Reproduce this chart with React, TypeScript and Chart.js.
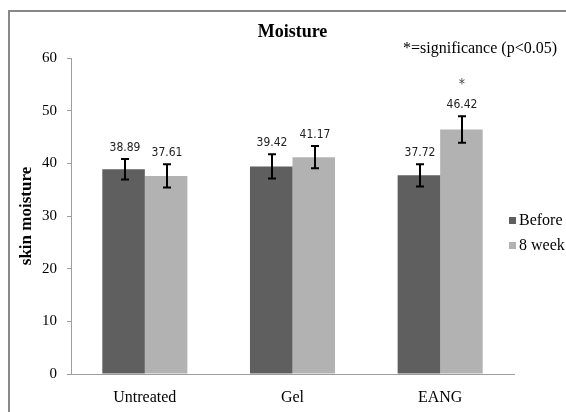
import React, { useEffect, useRef } from "react";
import { Chart, registerables } from "chart.js";

Chart.register(...registerables);

// ---- data ----
const categories = ["Untreated", "Gel", "EANG"];
const seriesNames = ["Before", "8 week"];
const beforeValues = [38.89, 39.42, 37.72];
const afterValues = [37.61, 41.17, 46.42];
const beforeErrors = [1.95, 2.3, 2.1];
const afterErrors = [2.2, 2.1, 2.5];
const beforeMarks = ["", "", ""];
const afterMarks = ["", "", "*"];
const yMin = 0;
const yMax = 60;
const yStep = 10;
const chartTitle = "Moisture";
const yAxisTitle = "skin moisture";
const noteText = "*=significance (p<0.05)";

// ---- styles ----
const SERIF = '"Liberation Serif", "Times New Roman", serif';
const NARROW = '"Liberation Sans Narrow", "Arial Narrow", "DejaVu Sans Condensed", sans-serif';
const DARK = "#5f5f5f";
const LIGHT = "#b2b2b2";
const AXIS = "#9d9d9d";

const framePlugin = {
  id: "frame",
  beforeDraw(chart: any) {
    const ctx = chart.ctx;
    ctx.save();
    ctx.fillStyle = "#ffffff";
    ctx.fillRect(0, 0, chart.width, chart.height);
    ctx.strokeStyle = "#888888";
    ctx.lineWidth = 2;
    ctx.strokeRect(9, 11, 800, 800);
    ctx.restore();
  },
};

const errorBarPlugin = {
  id: "errorBars",
  afterDatasetsDraw(chart: any) {
    const ctx = chart.ctx;
    const yScale = chart.scales.y;
    chart.data.datasets.forEach((ds: any, di: number) => {
      const meta = chart.getDatasetMeta(di);
      meta.data.forEach((bar: any, i: number) => {
        const v = ds.data[i];
        const e = ds.errors[i];
        const yTop = yScale.getPixelForValue(v + e);
        const yBot = yScale.getPixelForValue(v - e);
        const x = Math.round(bar.x) + 1;
        ctx.save();
        ctx.strokeStyle = "#000000";
        ctx.lineWidth = 2;
        ctx.beginPath();
        ctx.moveTo(x, yTop);
        ctx.lineTo(x, yBot);
        ctx.moveTo(x - 4, yTop);
        ctx.lineTo(x + 4, yTop);
        ctx.moveTo(x - 4, yBot);
        ctx.lineTo(x + 4, yBot);
        ctx.stroke();
        ctx.fillStyle = "#222222";
        ctx.textAlign = "center";
        ctx.textBaseline = "middle";
        ctx.font = `12px ${NARROW}`;
        ctx.fillText(v.toFixed(2), x, yTop - 11.5);
        const mark = ds.marks ? ds.marks[i] : "";
        if (mark) {
          ctx.fillStyle = "#444444";
          ctx.font = `14px ${NARROW}`;
          ctx.fillText(mark, x, yTop - 32);
        }
        ctx.restore();
      });
    });
  },
};

const sideLegendPlugin = {
  id: "sideLegend",
  afterDraw(chart: any) {
    const ctx = chart.ctx;
    ctx.save();
    ctx.fillStyle = "#000000";
    ctx.font = `16px ${SERIF}`;
    ctx.textAlign = "right";
    ctx.textBaseline = "middle";
    ctx.fillText(noteText, 557, 49);
    ctx.textAlign = "left";
    chart.data.datasets.forEach((ds: any, i: number) => {
      const cy = 220.5 + i * 25;
      ctx.fillStyle = ds.backgroundColor;
      ctx.fillRect(509, cy - 3.5, 7, 7);
      ctx.fillStyle = "#000000";
      ctx.fillText(ds.label, 519, cy);
    });
    ctx.restore();
  },
};

export default function App() {
  const canvasRef = useRef<HTMLCanvasElement | null>(null);

  useEffect(() => {
    if (!canvasRef.current) return;
    const chart = new Chart(canvasRef.current, {
      type: "bar",
      data: {
        labels: categories,
        datasets: [
          {
            label: seriesNames[0],
            data: beforeValues,
            errors: beforeErrors,
            marks: beforeMarks,
            backgroundColor: DARK,
            borderWidth: 0,
            categoryPercentage: 0.576,
            barPercentage: 1.0,
          } as any,
          {
            label: seriesNames[1],
            data: afterValues,
            errors: afterErrors,
            marks: afterMarks,
            backgroundColor: LIGHT,
            borderWidth: 0,
            categoryPercentage: 0.576,
            barPercentage: 1.0,
          } as any,
        ],
      },
      options: {
        responsive: false,
        animation: false,
        devicePixelRatio: 1,
        layout: { padding: { left: 0, right: 52, top: 0, bottom: 0 } },
        plugins: {
          legend: { display: false },
          tooltip: { enabled: false },
          title: {
            display: true,
            text: chartTitle,
            fullSize: false,
            color: "#000000",
            font: { family: SERIF, size: 18, weight: "bold" },
            padding: { top: 22, bottom: 14.4 },
          },
        },
        scales: {
          x: {
            afterFit(scale: any) {
              scale.height = 38;
            },
            grid: { display: false, drawTicks: false },
            border: { display: true, color: AXIS, width: 1 },
            ticks: {
              color: "#000000",
              padding: 14,
              font: { family: SERIF, size: 16 },
            },
          },
          y: {
            min: yMin,
            max: yMax,
            afterFit(scale: any) {
              scale.width = 71;
            },
            grid: {
              display: true,
              drawOnChartArea: false,
              drawTicks: true,
              tickLength: 4,
              color: AXIS,
            },
            border: { display: true, color: AXIS, width: 1 },
            ticks: {
              stepSize: yStep,
              color: "#000000",
              padding: 10,
              font: { family: SERIF, size: 15 },
            },
            title: {
              display: true,
              text: yAxisTitle,
              color: "#000000",
              font: { family: SERIF, size: 17, weight: "bold" },
              padding: { top: 16, bottom: 0 },
            },
          },
        },
      } as any,
      plugins: [framePlugin, errorBarPlugin, sideLegendPlugin],
    });
    return () => chart.destroy();
  }, []);

  return (
    <div style={{ position: "fixed", left: 0, top: 0, width: 566, height: 412, background: "#fff" }}>
      <canvas ref={canvasRef} width={566} height={412} style={{ display: "block", width: 566, height: 412 }} />
    </div>
  );
}
